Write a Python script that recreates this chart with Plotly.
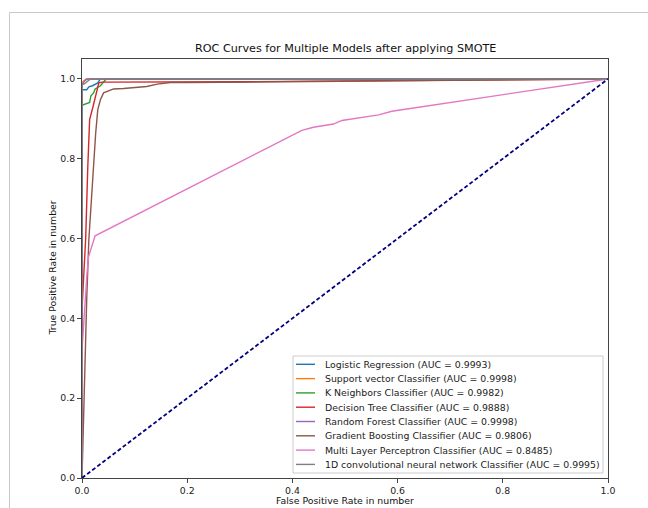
import plotly.graph_objects as go

# ---- data ----
model_names = [
    "Logistic Regression",
    "Support vector Classifier",
    "K Neighbors Classifier",
    "Decision Tree Classifier",
    "Random Forest Classifier",
    "Gradient Boosting Classifier",
    "Multi Layer Perceptron Classifier",
    "1D convolutional neural network Classifier",
]
auc_values = [0.9993, 0.9998, 0.9982, 0.9888, 0.9998, 0.9806, 0.8485, 0.9995]
colors = ["#1f77b4", "#ff7f0e", "#2ca02c", "#d62728", "#9467bd", "#8c564b", "#e377c2", "#7f7f7f"]

fpr_lr = [0, 0, 0.009, 0.013, 0.02, 0.03, 0.035, 1.0]
tpr_lr = [0, 0.973, 0.973, 0.98, 0.983, 0.99, 1.0, 1.0]

fpr_svc = [0, 0, 0.003, 0.008, 1.0]
tpr_svc = [0, 0.99, 0.995, 1.0, 1.0]

fpr_knn = [0, 0, 0.0145, 0.017, 0.022, 0.025, 0.035, 0.041, 0.046, 1.0]
tpr_knn = [0, 0.934, 0.941, 0.958, 0.965, 0.975, 0.983, 0.991, 1.0, 1.0]

fpr_dt = [0, 0, 0.003, 0.007, 0.011, 0.0145, 0.021, 0.024, 0.028, 0.032, 0.038, 0.3, 1.0]
tpr_dt = [0, 0.42, 0.5, 0.6, 0.78, 0.898, 0.931, 0.948, 0.965, 0.99, 0.992, 0.993, 1.0]

fpr_rf = [0, 0, 0.005, 0.01, 1.0]
tpr_rf = [0, 0.985, 0.995, 1.0, 1.0]

fpr_gb = [0, 0.002, 0.005, 0.009, 0.013, 0.0196, 0.026, 0.030, 0.035, 0.041, 0.051, 0.06, 0.079, 0.123, 0.143, 0.168, 0.2, 1.0]
tpr_gb = [0, 0.1, 0.3, 0.45, 0.597, 0.739, 0.864, 0.923, 0.948, 0.965, 0.971, 0.975, 0.976, 0.981, 0.987, 0.991, 0.991, 1.0]

fpr_mlp = [0, 0, 0.0095, 0.0125, 0.025, 0.418, 0.44, 0.478, 0.494, 0.564, 0.589, 1.0]
tpr_mlp = [0, 0.32, 0.513, 0.555, 0.607, 0.871, 0.879, 0.887, 0.896, 0.910, 0.919, 1.0]

fpr_cnn = [0, 0, 0.005, 0.012, 0.016, 1.0]
tpr_cnn = [0, 0.985, 0.988, 0.995, 1.0, 1.0]

fpr_all = [fpr_lr, fpr_svc, fpr_knn, fpr_dt, fpr_rf, fpr_gb, fpr_mlp, fpr_cnn]
tpr_all = [tpr_lr, tpr_svc, tpr_knn, tpr_dt, tpr_rf, tpr_gb, tpr_mlp, tpr_cnn]

chance_x = [0, 1]
chance_y = [0, 1]

x_ticks = [0.0, 0.2, 0.4, 0.6, 0.8, 1.0]
y_ticks = [0.0, 0.2, 0.4, 0.6, 0.8, 1.0]

FONT = "DejaVu Sans"
FS = 9.35

fig = go.Figure()
for name, auc, col, fx, ty in zip(model_names, auc_values, colors, fpr_all, tpr_all):
    fig.add_trace(go.Scatter(
        x=fx, y=ty, mode="lines", line=dict(color=col, width=1.4),
        name=f"{name} (AUC = {auc:.4f})", showlegend=False,
    ))
fig.add_trace(go.Scatter(
    x=chance_x, y=chance_y, mode="lines",
    line=dict(color="navy", width=1.8, dash="4px,2.4px"), showlegend=False,
))

W, H = 648, 508
ML, MR, MT, MB = 82, 40, 59, 30
PW, PH = W - ML - MR, H - MT - MB


def px_x(px):
    return (px - ML) / PW


def px_y(py):
    return (H - MB - py) / PH


axis_common = dict(
    showgrid=False, zeroline=False, showline=True, linecolor="#444", linewidth=1,
    mirror=True, ticks="outside", ticklen=4, tickcolor="#444", tickwidth=1,
    tickfont=dict(family=FONT, size=FS, color="#222"),
)

fig.update_layout(
    width=W, height=H,
    margin=dict(l=ML, r=MR, t=MT, b=MB),
    paper_bgcolor="white", plot_bgcolor="white",
    xaxis=dict(range=[0, 1], tickvals=x_ticks, ticktext=[f"{v:.1f}" for v in x_ticks], **axis_common),
    yaxis=dict(range=[0, 1.05], tickvals=y_ticks, ticktext=[f"{v:.1f}" for v in y_ticks], **axis_common),
    showlegend=False,
)

shapes = []
annotations = []

# outer figure border (partially cropped in the reference)
shapes.append(dict(type="rect", xref="paper", yref="paper",
                   x0=px_x(9.5), x1=px_x(700), y0=px_y(560), y1=px_y(12.5),
                   line=dict(color="#c8c8c8", width=1), fillcolor="rgba(0,0,0,0)", layer="below"))

# title and axis labels
annotations.append(dict(text="ROC Curves for Multiple Models after applying SMOTE",
                        xref="paper", yref="paper", x=0.5, y=px_y(48), showarrow=False,
                        xanchor="center", yanchor="middle", font=dict(family=FONT, size=11.2, color="#111")))
annotations.append(dict(text="False Positive Rate in number", xref="paper", yref="paper",
                        x=0.5, y=px_y(500), showarrow=False, xanchor="center", yanchor="middle",
                        font=dict(family=FONT, size=FS, color="#111")))
annotations.append(dict(text="True Positive Rate in number", xref="paper", yref="paper",
                        x=px_x(52), y=0.5, showarrow=False, xanchor="center", yanchor="middle",
                        textangle=-90, font=dict(family=FONT, size=FS, color="#111")))

# legend box
shapes.append(dict(type="rect", xref="paper", yref="paper",
                   x0=px_x(293), x1=px_x(603), y0=px_y(473), y1=px_y(356),
                   line=dict(color="#cccccc", width=1), fillcolor="rgba(255,255,255,0.8)", layer="above"))
row0, step = 364.3, 14.3
for i, (name, auc, col) in enumerate(zip(model_names, auc_values, colors)):
    py = row0 + step * i
    shapes.append(dict(type="line", xref="paper", yref="paper",
                       x0=px_x(296), x1=px_x(315), y0=px_y(py), y1=px_y(py),
                       line=dict(color=col, width=1.4), layer="above"))
    annotations.append(dict(text=f"{name} (AUC = {auc:.4f})", xref="paper", yref="paper",
                            x=px_x(323), y=px_y(py), showarrow=False, xanchor="left", yanchor="middle",
                            font=dict(family=FONT, size=FS, color="#222")))

fig.update_layout(shapes=shapes, annotations=annotations)
fig.write_html(
    "out.html",
    config={"displayModeBar": False},
    post_script="document.body.style.margin='0';document.body.style.overflow='hidden';",
)
